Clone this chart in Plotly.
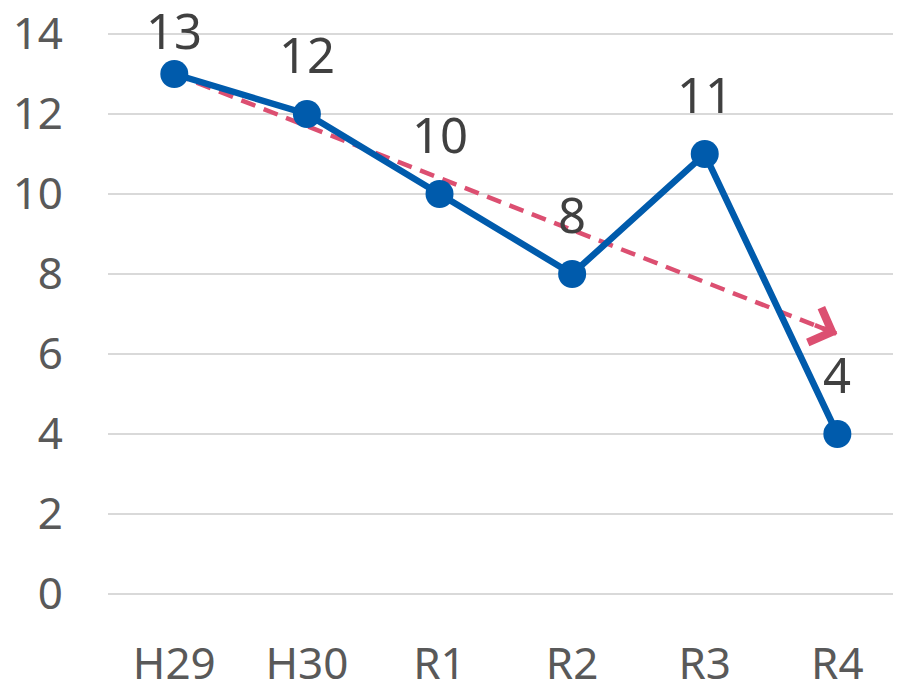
import plotly.graph_objects as go

categories = ["H29", "H30", "R1", "R2", "R3", "R4"]
values = [13, 12, 10, 8, 11, 4]
trend_x = ["H29", "R4"]
trend_y = [13, 6.5]
y_ticks = [0, 2, 4, 6, 8, 10, 12, 14]

BLUE = "#005BAC"
PINK = "#DC4F71"
GRID = "#D9D9D9"
FONT = "Noto Sans"

fig = go.Figure()

fig.add_trace(go.Scatter(
    x=trend_x, y=trend_y, mode="lines",
    line=dict(color=PINK, width=4.5, dash="15px,9px"),
    hoverinfo="skip", showlegend=False, cliponaxis=False,
))

fig.add_trace(go.Scatter(
    x=categories, y=values, mode="lines+markers",
    line=dict(color=BLUE, width=6.5),
    marker=dict(color=BLUE, size=28),
    showlegend=False, cliponaxis=False,
))

top = max(y_ticks)
for c, v in zip(categories, values):
    # labels near the top of the chart are pulled down to stay on the page
    shift = 25 if v <= top - 2 else 9
    fig.add_annotation(
        x=c, y=v, text=str(v), showarrow=False,
        yanchor="bottom", yshift=shift,
        font=dict(family=FONT, size=49, color="#404040"),
    )

# arrow head at end of trend line
fig.add_annotation(
    x=trend_x[-1], y=trend_y[-1], text="",
    showarrow=True, arrowhead=4, arrowsize=1.6, arrowwidth=4.5,
    arrowcolor=PINK, axref="pixel", ayref="pixel", ax=-24, ay=-9.4,
    standoff=0,
)

fig.update_layout(
    width=893, height=674,
    margin=dict(l=100, r=0, t=24, b=88),
    paper_bgcolor="white", plot_bgcolor="white",
    font=dict(family=FONT, color="#595959", size=46),
    xaxis=dict(
        type="category", categoryorder="array", categoryarray=categories,
        range=[-0.5, 5.48],
        showgrid=False, showline=False, zeroline=False, automargin=False,
        ticks="", ticklabelstandoff=40, ticklabeloverflow="allow",
        tickfont=dict(size=44, color="#595959"),
    ),
    yaxis=dict(
        range=[0, 14.05], tickvals=y_ticks, automargin=False,
        showgrid=True, gridcolor=GRID, gridwidth=1.5,
        zeroline=True, zerolinecolor=GRID, zerolinewidth=1.5,
        showline=False, ticks="",
        ticklabelstandoff=44, ticklabeloverflow="allow",
        tickfont=dict(size=44, color="#595959"),
    ),
)

fig.write_html("out.html")
